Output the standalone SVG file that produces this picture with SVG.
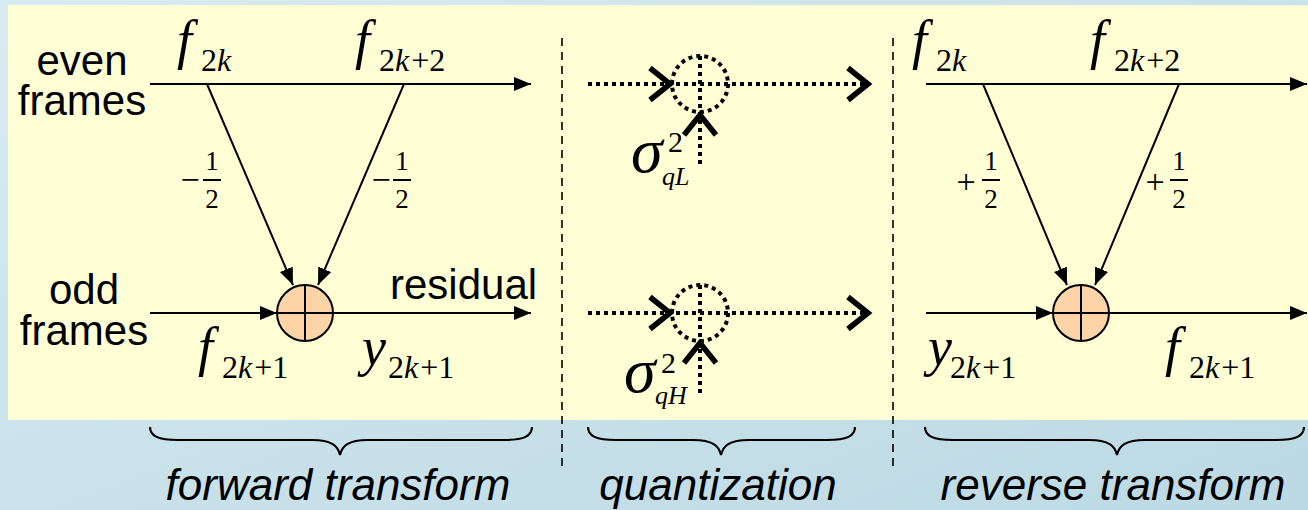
<svg xmlns="http://www.w3.org/2000/svg" width="1308" height="510" viewBox="0 0 1308 510">
<defs>
<linearGradient id="bg" x1="0" y1="0" x2="1" y2="1">
<stop offset="0" stop-color="#d8ebf1"/>
<stop offset="1" stop-color="#bcd9e3"/>
</linearGradient>
<marker id="ah" markerUnits="userSpaceOnUse" markerWidth="18" markerHeight="16" refX="17" refY="7" orient="auto">
<path d="M0,0 L17,7 L0,14 z" fill="#000"/>
</marker>
<style>
.ln{stroke:#000;stroke-width:2;fill:none}
.dot{stroke:#000;stroke-width:4;stroke-dasharray:4 4;fill:none}
.chev{stroke:#000;stroke-width:5.5;fill:none;stroke-linejoin:miter}
.dash{stroke:#000;stroke-width:1.6;stroke-dasharray:8 6;fill:none}
.brace{stroke:#000;stroke-width:2.2;fill:none}
.sum{fill:#fdd4a8;stroke:#000;stroke-width:2}
.lbl{font-family:"Liberation Sans",Arial,sans-serif;font-size:42px;fill:#000}
.cap{font-family:"Liberation Sans",Arial,sans-serif;font-style:italic;font-size:44px;fill:#000}
.m{font-family:"Liberation Serif","Times New Roman",serif;font-style:italic;font-size:54px;fill:#000}
.s{font-family:"Liberation Serif","Times New Roman",serif;font-size:32px;fill:#000}
.it{font-style:italic}
.fr{font-family:"Liberation Serif","Times New Roman",serif;font-size:27px;fill:#000}
.sg{font-family:"Liberation Serif","Times New Roman",serif;font-size:34px;fill:#000}
.sig{font-family:"Liberation Serif","Times New Roman",serif;font-style:italic;font-size:64px;fill:#000}
.sup{font-family:"Liberation Serif","Times New Roman",serif;font-size:30px;fill:#000}
.ss{font-family:"Liberation Serif","Times New Roman",serif;font-style:italic;font-size:26px;fill:#000}
</style>
</defs>
<rect x="0" y="0" width="1308" height="510" fill="url(#bg)"/>
<rect x="8" y="5" width="1300" height="415" fill="#ffffd6"/>

<g id="connectors">
<line class="ln" x1="150" y1="84" x2="531" y2="84" marker-end="url(#ah)"/>
<line class="ln" x1="207" y1="84" x2="293" y2="285" marker-end="url(#ah)"/>
<line class="ln" x1="404" y1="84" x2="318" y2="285" marker-end="url(#ah)"/>
<line class="ln" x1="150" y1="313" x2="277" y2="313" marker-end="url(#ah)"/>
<line class="ln" x1="333" y1="313" x2="531" y2="313" marker-end="url(#ah)"/>
<line class="ln" x1="926" y1="84" x2="1307" y2="84" marker-end="url(#ah)"/>
<line class="ln" x1="983" y1="84" x2="1067" y2="285" marker-end="url(#ah)"/>
<line class="ln" x1="1179" y1="84" x2="1095" y2="285" marker-end="url(#ah)"/>
<line class="ln" x1="926" y1="313" x2="1053" y2="313" marker-end="url(#ah)"/>
<line class="ln" x1="1109" y1="313" x2="1307" y2="313" marker-end="url(#ah)"/>
<line class="dot" x1="588" y1="84" x2="866" y2="84"/>
<polyline class="chev" points="650,68 670,84 650,100"/>
<polyline class="chev" points="848,68 868,84 848,100"/>
<line class="dot" x1="700" y1="56" x2="700" y2="168"/>
<polyline class="chev" points="684,135 700,115 716,135"/>
<line class="dot" x1="588" y1="313" x2="866" y2="313"/>
<polyline class="chev" points="650,297 670,313 650,329"/>
<polyline class="chev" points="848,297 868,313 848,329"/>
<line class="dot" x1="700" y1="285" x2="700" y2="397"/>
<polyline class="chev" points="684,363 700,343 716,363"/>
</g>

<g id="dividers">
<line class="dash" x1="562" y1="38" x2="562" y2="468"/>
<line class="dash" x1="893" y1="38" x2="893" y2="468"/>
</g>

<g id="fwd-sum">
<circle class="sum" cx="305" cy="313" r="28"/>
<line class="ln" x1="305" y1="285" x2="305" y2="341"/>
<line class="ln" x1="277" y1="313" x2="333" y2="313"/>
</g>
<g id="rev-sum">
<circle class="sum" cx="1081" cy="313" r="28"/>
<line class="ln" x1="1081" y1="285" x2="1081" y2="341"/>
<line class="ln" x1="1053" y1="313" x2="1109" y2="313"/>
</g>
<g id="quant-L">
<circle class="dot" cx="700" cy="84" r="28"/>
</g>
<g id="quant-H">
<circle class="dot" cx="700" cy="313" r="28"/>
</g>

<g id="labels-forward">
<text class="lbl" text-anchor="middle"><tspan x="82" y="75">even</tspan><tspan x="82" y="115">frames</tspan></text>
<text class="lbl" text-anchor="middle"><tspan x="84" y="304">odd</tspan><tspan x="84" y="345">frames</tspan></text>
<text class="lbl" x="390" y="299">residual</text>
<text class="m" x="177" y="58">f</text>
<text class="s" x="201" y="71">2<tspan class="it">k</tspan></text>
<text class="m" x="355" y="58">f</text>
<text class="s" x="379" y="71">2<tspan class="it">k</tspan><tspan dx="2">+2</tspan></text>
<text class="m" x="198" y="365">f</text>
<text class="s" x="222" y="378">2<tspan class="it">k</tspan><tspan dx="2">+1</tspan></text>
<text class="m" x="362" y="365">y</text>
<text class="s" x="388" y="378">2<tspan class="it">k</tspan><tspan dx="2">+1</tspan></text>
<text class="sg" x="190" y="191" text-anchor="middle">−</text>
<text class="fr" x="212" y="170" text-anchor="middle">1</text>
<line class="ln" x1="203" y1="180" x2="221" y2="180" stroke-width="1.5"/>
<text class="fr" x="212" y="208" text-anchor="middle">2</text>
<text class="sg" x="381" y="191" text-anchor="middle">−</text>
<text class="fr" x="402" y="170" text-anchor="middle">1</text>
<line class="ln" x1="393" y1="180" x2="411" y2="180" stroke-width="1.5"/>
<text class="fr" x="402" y="208" text-anchor="middle">2</text>
</g>

<g id="labels-quant">
<text class="sig" x="631" y="172">σ</text>
<text class="sup" x="668" y="152">2</text>
<text class="ss" x="662" y="185">qL</text>
<text class="sig" x="624" y="392">σ</text>
<text class="sup" x="661" y="373">2</text>
<text class="ss" x="655" y="404">qH</text>
</g>

<g id="labels-reverse">
<text class="m" x="912" y="58">f</text>
<text class="s" x="936" y="71">2<tspan class="it">k</tspan></text>
<text class="m" x="1090" y="58">f</text>
<text class="s" x="1114" y="71">2<tspan class="it">k</tspan><tspan dx="2">+2</tspan></text>
<text class="m" x="928" y="365">y</text>
<text class="s" x="950" y="378">2<tspan class="it">k</tspan><tspan dx="2">+1</tspan></text>
<text class="m" x="1165" y="365">f</text>
<text class="s" x="1189" y="378">2<tspan class="it">k</tspan><tspan dx="2">+1</tspan></text>
<text class="sg" x="966" y="193" text-anchor="middle">+</text>
<text class="fr" x="991" y="170" text-anchor="middle">1</text>
<line class="ln" x1="982" y1="180" x2="1000" y2="180" stroke-width="1.5"/>
<text class="fr" x="991" y="208" text-anchor="middle">2</text>
<text class="sg" x="1155" y="193" text-anchor="middle">+</text>
<text class="fr" x="1179" y="170" text-anchor="middle">1</text>
<line class="ln" x1="1170" y1="180" x2="1188" y2="180" stroke-width="1.5"/>
<text class="fr" x="1179" y="208" text-anchor="middle">2</text>
</g>

<g id="braces">
<path class="brace" d="M150,427 C150,436 158,440 178,440 L312,440 C332,440 338,446 340,455 C342,446 348,440 368,440 L504,440 C524,440 532,436 532,427"/>
<path class="brace" d="M588,427 C588,436 596,440 616,440 L693,440 C713,440 719,446 721,455 C723,446 729,440 749,440 L827,440 C847,440 855,436 855,427"/>
<path class="brace" d="M925,427 C925,436 933,440 953,440 L1089,440 C1109,440 1115,446 1117,455 C1119,446 1125,440 1145,440 L1276,440 C1296,440 1304,436 1304,427"/>
</g>

<g id="captions">
<text class="cap" x="338" y="500" text-anchor="middle">forward transform</text>
<text class="cap" x="718" y="500" text-anchor="middle">quantization</text>
<text class="cap" x="1113" y="500" text-anchor="middle">reverse transform</text>
</g>
</svg>
